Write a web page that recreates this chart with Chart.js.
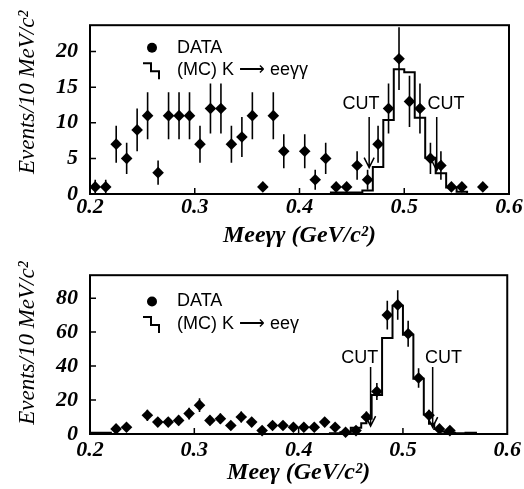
<!DOCTYPE html>
<html>
<head>
<meta charset="utf-8">
<script src="https://cdn.jsdelivr.net/npm/chart.js@4.4.1/dist/chart.umd.min.js"></script>
<style>
html, body { margin: 0; padding: 0; background: #fff; }
#wrap { position: relative; width: 524px; height: 489px; overflow: hidden; }
.panel { position: absolute; left: 0; }
canvas { display: block; }
</style>
</head>
<body>
<div id="wrap">
  <div class="panel" style="top:0px"><canvas id="chartTop" width="524" height="250"></canvas></div>
  <div class="panel" style="top:250px"><canvas id="chartBot" width="524" height="239"></canvas></div>
</div>
<script>
// ---- data ----
// upper panel: M(ee gamma gamma)
var topX = [0.205,0.215,0.225,0.235,0.245,0.255,0.265,0.275,0.285,0.295,0.305,0.315,0.325,0.335,0.345,0.355,0.365,0.375,0.385,0.405,0.415,0.425,0.435,0.445,0.455,0.465,0.475,0.485,0.495,0.505,0.515,0.525,0.535,0.545,0.555,0.575];
var topY = [1,1,7,5,9,11,3,11,11,11,7,12,12,7,8,11,1,11,6,6,2,5,1,1,4,2,7,12,19,13,12,5,4,1,1,1];
var topErr = [1,1,2.6,2.2,3,3.3,1.7,3.3,3.3,3.3,2.6,3.5,3.5,2.6,2.8,3.3,0,3.3,2.4,2.4,1.4,2.2,0,0,2,1.4,2.6,3.5,4.4,3.6,3.5,2.2,2,0,0,0];
var mcTopEdges = [0.43,0.44,0.45,0.46,0.47,0.48,0.49,0.50,0.51,0.52,0.53,0.54,0.55,0.56];
var mcTopVals = [0.2,0.2,0.2,0.5,3.8,10.4,17.5,17.1,10.7,5.1,2.9,0.9,0.3];

// lower panel: M(ee gamma)
var botX = [0.225,0.235,0.255,0.265,0.275,0.285,0.295,0.305,0.315,0.325,0.335,0.345,0.355,0.365,0.375,0.385,0.395,0.405,0.415,0.425,0.435,0.445,0.455,0.465,0.475,0.485,0.495,0.505,0.515,0.525,0.535,0.545];
var botY = [3,4,11,7,7,8,12,17,8,9,5,10,7,2,5,5,4,4,4,7,4,1,2,10,25,70,76,59,33,11,3,2];
var botErr = [1.7,2,3.3,2.6,2.6,2.8,3.5,4.1,2.8,3,2.2,3.2,2.6,1.4,2.2,2.2,2,2,2,2.6,2,1,1.4,3.2,5,8.4,8.7,7.7,5.7,3.3,1.7,1.4];
var mcBotEdges = [0.20,0.22,0.43,0.44,0.45,0.46,0.465,0.47,0.48,0.49,0.50,0.51,0.52,0.525,0.53,0.535,0.54,0.55,0.56,0.57];
var mcBotVals = [0.7,0,0.5,1,3.7,6.3,9,23,56.5,75.5,58.5,32.5,11.5,6,3,1.5,0.8,0.4,0.8];

var xTicks = [0.2,0.3,0.4,0.5,0.6];
var topYTicks = [0,5,10,15,20];
var botYTicks = [0,20,40,60,80];

// cut arrows: x position, arrow from / to (y units), label position
var topCutX = [0.4665, 0.531];
var topCutFrom = 10.8, topCutTo = [3.7, 3.3];
var topCutLabelX = [0.4587, 0.5399], topCutLabelY = 12.6;
var botCutX = [0.469, 0.5285];
var botCutFrom = 39.4, botCutTo = [4.6, 4.0];
var botCutLabelX = [0.4587, 0.539], botCutLabelY = 44.9;

var SERIF = "'Liberation Serif', 'Times New Roman', serif";
var SANS = "'Liberation Sans', Arial, sans-serif";

Chart.defaults.color = '#000';

function points(xs, ys) {
    var out = [];
    for (var i = 0; i < xs.length; i++) out.push({x: xs[i], y: ys[i]});
    return out;
}

function errorBars(xs, ys, es) {
    var out = [];
    for (var i = 0; i < xs.length; i++) {
        if (es[i] <= 0) continue;
        out.push({x: xs[i], y: ys[i] - es[i]});
        out.push({x: xs[i], y: ys[i] + es[i]});
        out.push({x: xs[i], y: null});
    }
    return out;
}

function histo(edges, vals) {
    var out = [{x: edges[0], y: 0}];
    for (var i = 0; i < vals.length; i++) out.push({x: edges[i], y: vals[i]});
    out.push({x: edges[edges.length - 1], y: 0});
    return out;
}

// frame, inner ticks, CUT arrows and legend
var deco = {
    id: 'deco',
    afterDatasetsDraw: function(chart, args, o) {
        var ctx = chart.ctx, a = chart.chartArea;
        var xs = chart.scales.x, ys = chart.scales.y;
        ctx.save();
        ctx.strokeStyle = '#000';
        ctx.fillStyle = '#000';
        ctx.lineWidth = 2;
        ctx.strokeRect(a.left, a.top, a.right - a.left, a.bottom - a.top);

        ctx.lineWidth = 1.5;
        ctx.beginPath();
        xs.ticks.forEach(function(t) {
            if (t.value <= xs.min + 1e-9 || t.value >= xs.max - 1e-9) return;
            var px = xs.getPixelForValue(t.value);
            ctx.moveTo(px, a.bottom); ctx.lineTo(px, a.bottom - 6);
        });
        ys.ticks.forEach(function(t) {
            if (t.value <= ys.min) return;
            var py = ys.getPixelForValue(t.value);
            ctx.moveTo(a.left, py); ctx.lineTo(a.left + 6, py);
        });
        ctx.stroke();

        // cuts
        ctx.font = '18px ' + SANS;
        ctx.textAlign = 'center';
        ctx.textBaseline = 'middle';
        ctx.lineWidth = 1.5;
        for (var i = 0; i < o.cutX.length; i++) {
            var px = xs.getPixelForValue(o.cutX[i]);
            var y0 = ys.getPixelForValue(o.cutFrom);
            var y1 = ys.getPixelForValue(o.cutTo[i]);
            ctx.beginPath();
            ctx.moveTo(px, y0); ctx.lineTo(px, y1);
            ctx.moveTo(px - 5, y1 - 10); ctx.lineTo(px, y1); ctx.lineTo(px + 5, y1 - 10);
            ctx.stroke();
            ctx.fillText('CUT', xs.getPixelForValue(o.labelX[i]), ys.getPixelForValue(o.labelY));
        }

        // legend
        var lx = a.left + o.legend.dx;
        var ly1 = a.top + o.legend.dy1, ly2 = a.top + o.legend.dy2;
        ctx.beginPath();
        ctx.arc(lx, ly1, 5, 0, Math.PI * 2);
        ctx.fill();
        ctx.lineWidth = 2;
        ctx.beginPath();
        ctx.moveTo(lx - 9, ly2 - 7); ctx.lineTo(lx - 1, ly2 - 7);
        ctx.lineTo(lx - 1, ly2 + 1); ctx.lineTo(lx + 7, ly2 + 1);
        ctx.lineTo(lx + 7, ly2 + 9);
        ctx.stroke();
        ctx.font = '18px ' + SANS;
        ctx.textAlign = 'left';
        ctx.fillText('DATA', lx + 25, ly1);
        ctx.fillText(o.legend.mcText, lx + 25, ly2);
        ctx.restore();
    }
};

function makeChart(id, cfg) {
    return new Chart(document.getElementById(id), {
        type: 'line',
        data: {
            datasets: [{
                label: 'DATA',
                data: points(cfg.x, cfg.y),
                showLine: false,
                pointStyle: 'rectRot',
                pointRadius: 5.8,
                pointBackgroundColor: '#000',
                pointBorderColor: '#000',
                pointBorderWidth: 0,
                clip: false,
                order: 0
            }, {
                label: 'errors',
                data: errorBars(cfg.x, cfg.y, cfg.err),
                borderColor: '#000',
                borderWidth: 1.6,
                pointRadius: 0,
                spanGaps: false,
                order: 1
            }, {
                label: 'MC',
                data: histo(cfg.edges, cfg.vals),
                borderColor: '#000',
                borderWidth: 2,
                pointRadius: 0,
                stepped: 'before',
                fill: false,
                order: 2
            }]
        },
        options: {
            responsive: false,
            animation: false,
            events: [],
            layout: { padding: { top: cfg.padTop, right: 15, left: 0, bottom: 0 } },
            plugins: {
                legend: { display: false },
                tooltip: { enabled: false },
                deco: cfg.deco
            },
            scales: {
                x: {
                    type: 'linear',
                    min: 0.2,
                    max: 0.6,
                    afterFit: function(s) { s.height = cfg.xAxisH; },
                    afterBuildTicks: function(s) { s.ticks = xTicks.map(function(v) { return {value: v}; }); },
                    grid: { display: false, drawTicks: false },
                    border: { display: false },
                    ticks: {
                        padding: cfg.xTickPad,
                        maxRotation: 0,
                        autoSkip: false,
                        font: { family: SERIF, size: 22, style: 'italic', weight: 'bold' },
                        callback: function(v) { return v.toFixed(1); }
                    },
                    title: {
                        display: true,
                        text: cfg.xTitle,
                        font: { family: SERIF, size: 24, style: 'italic', weight: 'bold' },
                        padding: { top: 0, bottom: cfg.xTitlePad }
                    }
                },
                y: {
                    min: 0,
                    max: cfg.yMax,
                    afterFit: function(s) { s.width = 90; },
                    afterBuildTicks: function(s) { s.ticks = cfg.yTicks.map(function(v) { return {value: v}; }); },
                    grid: { display: false, drawTicks: false },
                    border: { display: false },
                    ticks: {
                        padding: 12,
                        font: { family: SERIF, size: 22, style: 'italic', weight: 'bold' }
                    },
                    title: {
                        display: true,
                        text: cfg.yTitle,
                        font: { family: SERIF, size: 23, style: 'italic' },
                        padding: { top: 14, bottom: 0 }
                    }
                }
            }
        },
        plugins: [deco]
    });
}

makeChart('chartTop', {
    x: topX, y: topY, err: topErr, edges: mcTopEdges, vals: mcTopVals,
    yMax: 23.7, yTicks: topYTicks, padTop: 9, xAxisH: 56, xTickPad: 0, xTitlePad: 0,
    xTitle: 'Mee\u03B3\u03B3 (GeV/c\u00B2)',
    yTitle: '      Events/10 MeV/c\u00B2',
    deco: {
        cutX: topCutX, cutFrom: topCutFrom, cutTo: topCutTo,
        labelX: topCutLabelX, labelY: topCutLabelY,
        legend: { dx: 62, dy1: 22.5, dy2: 45, mcText: '(MC) K \u27F6 ee\u03B3\u03B3' }
    }
});

makeChart('chartBot', {
    x: botX, y: botY, err: botErr, edges: mcBotEdges, vals: mcBotVals,
    yMax: 93.5, yTicks: botYTicks, padTop: 2, xAxisH: 55, xTickPad: 3, xTitlePad: 2,
    xTitle: 'Mee\u03B3 (GeV/c\u00B2)',
    yTitle: '    Events/10 MeV/c\u00B2',
    deco: {
        cutX: botCutX, cutFrom: botCutFrom, cutTo: botCutTo,
        labelX: botCutLabelX, labelY: botCutLabelY,
        legend: { dx: 62, dy1: 26.3, dy2: 48.8, mcText: '(MC) K \u27F6 ee\u03B3' }
    }
});
</script>
</body>
</html>
